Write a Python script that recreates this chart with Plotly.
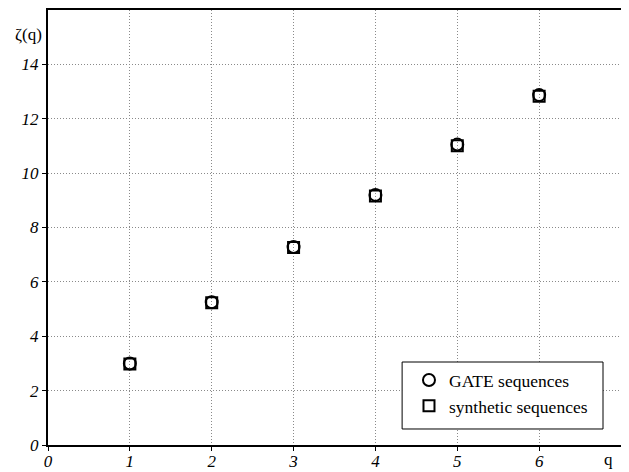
import plotly.graph_objects as go

q = [1, 2, 3, 4, 5, 6]
gate = [3.00, 5.25, 7.28, 9.20, 11.05, 12.87]
synthetic = [2.98, 5.23, 7.26, 9.16, 11.01, 12.83]
x_ticks = [0, 1, 2, 3, 4, 5, 6]
y_ticks = [0, 2, 4, 6, 8, 10, 12, 14]

SERIF = "Liberation Serif"

fig = go.Figure()
fig.add_trace(go.Scatter(x=q, y=gate, mode="markers", name="GATE sequences",
                         marker=dict(symbol="circle-open", size=12, color="black", line=dict(width=2))))
fig.add_trace(go.Scatter(x=q, y=synthetic, mode="markers", name="synthetic sequences",
                         marker=dict(symbol="square-open", size=11, color="black", line=dict(width=2))))

# the page body adds an 8px margin, so the figure is sized/placed to compensate
fig.update_layout(
    width=621, height=464,
    margin=dict(l=40, r=8, t=2, b=27, autoexpand=False),
    plot_bgcolor="white", paper_bgcolor="white",
    font=dict(family=SERIF, size=16, color="black"),
    showlegend=True,
    legend=dict(x=0.630, y=0.1906, xanchor="left", yanchor="top",
                bgcolor="rgba(0,0,0,0)", borderwidth=0,
                font=dict(family=SERIF, size=17.5, color="black"),
                itemwidth=30, tracegroupgap=0),
)
axis_common = dict(
    tickfont=dict(family=SERIF, size=17, style="italic", color="black"),
    showgrid=True, gridcolor="#8a8a8a", griddash="1px,2px", gridwidth=1,
    showline=True, linecolor="black", linewidth=2, mirror=True,
    ticks="outside", ticklen=4, tickcolor="black", zeroline=False, automargin=False,
)
fig.update_xaxes(range=[0, 7], tickvals=x_ticks, ticktext=[str(v) for v in x_ticks],
                 ticklabelstandoff=-4, **axis_common)
fig.update_yaxes(range=[0, 16], tickvals=y_ticks, ticktext=[str(v) for v in y_ticks], **axis_common)

# legend box
fig.add_shape(type="rect", xref="paper", yref="paper", x0=0.618, x1=0.9686, y0=0.0368, y1=0.1908,
              line=dict(color="black", width=1), fillcolor="white", layer="above")

fig.add_annotation(text="ζ(q)", xref="paper", yref="y", x=0, y=15.1, xanchor="right",
                   yanchor="middle", xshift=-4, showarrow=False,
                   font=dict(family=SERIF, size=17, color="black"))
fig.add_annotation(text="q", xref="x", yref="paper", x=6.85, y=0, yanchor="top",
                   yshift=-3, showarrow=False,
                   font=dict(family=SERIF, size=17, color="black"))

fig.write_html("out.html")
